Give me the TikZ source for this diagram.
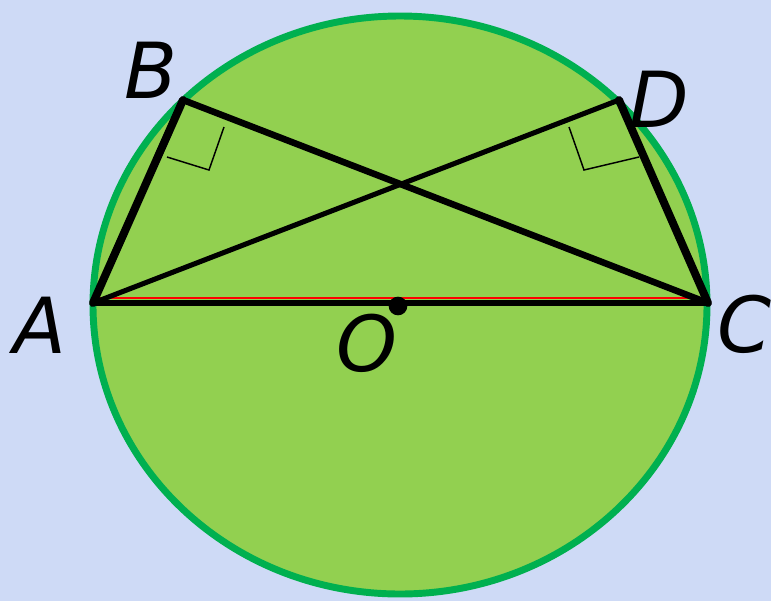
\documentclass[tikz,border=0pt]{standalone}
\usepackage{fontspec}
\setmainfont{DejaVu Sans}
\usetikzlibrary{
  calc,
  positioning
}
\definecolor{bgblue}{RGB}{206,218,246}
\definecolor{discgreen}{RGB}{146,208,80}
\definecolor{rimgreen}{RGB}{0,176,80}

\begin{document}
\begin{tikzpicture}[x=0.75pt,y=-0.75pt]
  \tikzset{
    chord/.style={draw=black,line cap=round,line join=miter},
    rightmark/.style={draw=black,line width=1.1pt},
    ptlabel/.style={inner sep=0pt,font=\fontsize{58}{64}\selectfont\itshape}
  }
\fill[bgblue] (0,0) rectangle (771,601);
\useasboundingbox (0,0) rectangle (771,601);

\coordinate (O) at (400,305);
\coordinate (A) at (93,303);
\coordinate (C) at (708,303);
\coordinate (B) at (183,100);
\coordinate (D) at (619,100);

\draw[fill=discgreen,draw=rimgreen,line width=5.2pt] (O) ellipse [x radius=307,y radius=289];

%\draw[red] (A)--(B)--(C)--(D)--cycle;

\draw[red,line width=1.5pt] ($(A)+(0,-5)$)--($(C)+(0,-5)$);
\draw[chord,line width=5.2pt] (A)--(C);
\draw[chord,line width=3.8pt] (A)--(D);
\draw[chord,line width=4.9pt] (B)--(C);
\draw[chord,line width=6pt] (A)--(B);
\draw[chord,line width=6pt] (D)--(C);

\draw[rightmark] (167,157)--(209,170)--(224,127);
\draw[rightmark] (569,127)--(584,170)--(639,157);

\fill[black] (398,306) circle (7pt);

\node[ptlabel] (lA) at (40,325) {A};
\node[ptlabel] (lB) at (151,70) {B};
\node[ptlabel] (lC) at (744,324) {C};
\node[ptlabel] (lD) at (659,99) {D};
\node[ptlabel] (lO) at (367,343) {O};

\end{tikzpicture}
\end{document}
